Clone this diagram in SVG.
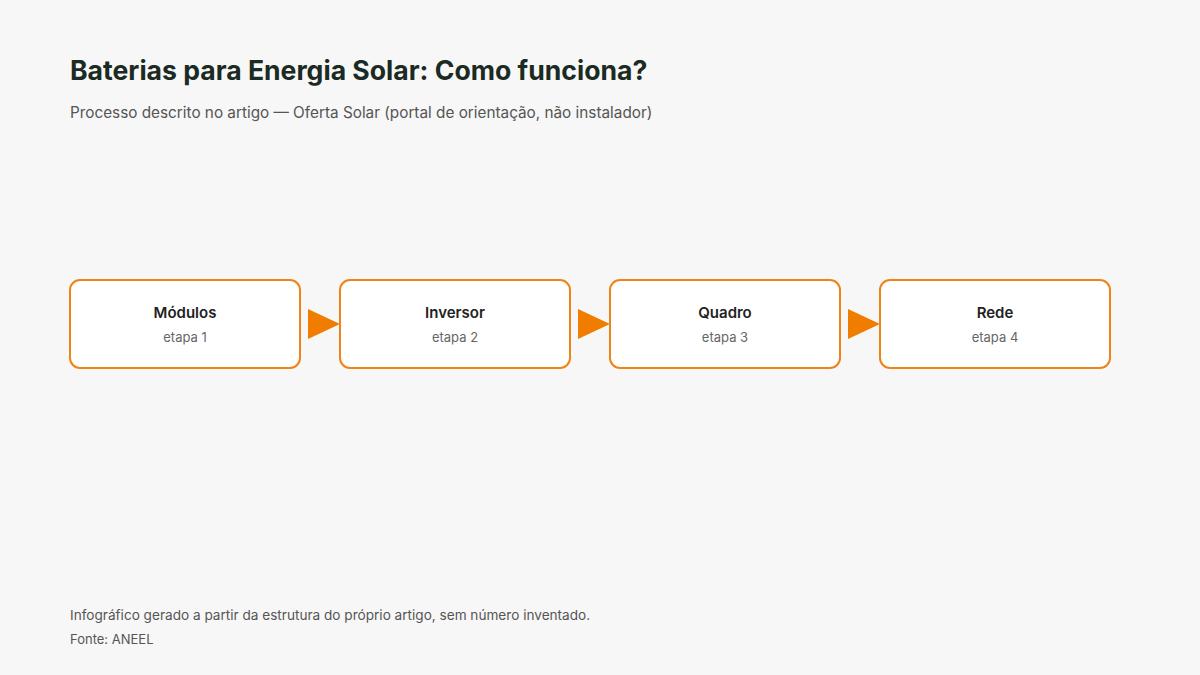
<svg xmlns="http://www.w3.org/2000/svg" width="1200" height="675" viewBox="0 0 1200 675">
<defs>
<style>
.t{font-family:Inter,"Noto Sans",sans-serif;}
.title{font-size:26.6px;font-weight:700;fill:#1b2a22;}
.sub{font-size:15.3px;fill:#555;}
.box{fill:#fff;stroke:#ee8418;stroke-width:2;}
.nt{font-size:15px;font-weight:600;fill:#222;text-anchor:middle;}
.ns{font-size:13px;fill:#666;text-anchor:middle;}
.foot{font-size:13.6px;fill:#555;}
.src{font-size:13px;fill:#555;}
.arr{fill:#f07c00;}
</style>
</defs>
<rect width="1200" height="675" fill="#f7f7f7"/>
<text class="t title" x="70" y="80">Baterias para Energia Solar: Como funciona?</text>
<text class="t sub" x="70" y="118">Processo descrito no artigo — Oferta Solar (portal de orientação, não instalador)</text>
<g id="connectors">
<polygon class="arr" points="308,309 340,324 308,339"/>
<polygon class="arr" points="578,309 610,324 578,339"/>
<polygon class="arr" points="848,309 880,324 848,339"/>
</g>
<g id="n1"><rect class="box" x="70" y="280" width="230" height="88" rx="10"/><text class="t nt" x="185" y="318">Módulos</text><text class="t ns" x="185" y="342">etapa 1</text></g>
<g id="n2"><rect class="box" x="340" y="280" width="230" height="88" rx="10"/><text class="t nt" x="455" y="318">Inversor</text><text class="t ns" x="455" y="342">etapa 2</text></g>
<g id="n3"><rect class="box" x="610" y="280" width="230" height="88" rx="10"/><text class="t nt" x="725" y="318">Quadro</text><text class="t ns" x="725" y="342">etapa 3</text></g>
<g id="n4"><rect class="box" x="880" y="280" width="230" height="88" rx="10"/><text class="t nt" x="995" y="318">Rede</text><text class="t ns" x="995" y="342">etapa 4</text></g>
<text class="t foot" x="70" y="620">Infográfico gerado a partir da estrutura do próprio artigo, sem número inventado.</text>
<text class="t src" x="70" y="644">Fonte: ANEEL</text>
</svg>
